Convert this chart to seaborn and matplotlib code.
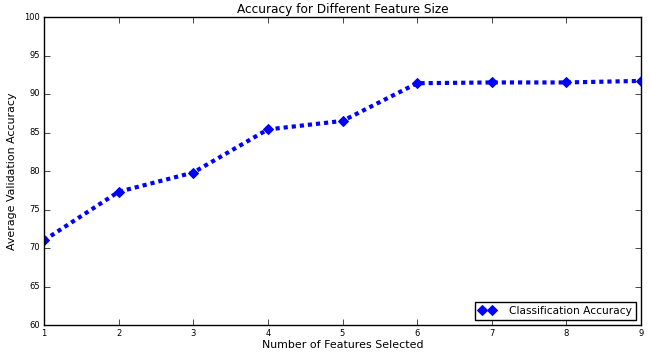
import matplotlib
matplotlib.use("Agg")
import matplotlib.pyplot as plt
import seaborn as sns
import pandas as pd

features = [1, 2, 3, 4, 5, 6, 7, 8, 9]
accuracy = [71.0, 77.3, 79.8, 85.4, 86.5, 91.4, 91.5, 91.5, 91.7]

plt.style.use("classic")
plt.rcParams["font.family"] = ["DejaVu Sans"]
plt.rcParams["lines.scale_dashes"] = True

df = pd.DataFrame({"features": features, "accuracy": accuracy})

fig = plt.figure(figsize=(6.51, 3.53), dpi=100, facecolor="white")
ax = fig.add_axes([44 / 651, 1 - 325 / 353, 597 / 651, 308 / 353])
ax.set_facecolor("white")

sns.lineplot(data=df, x="features", y="accuracy", ax=ax, color="b",
             linestyle=(0, (1, 0.95)), linewidth=3, marker="D", markersize=5,
             markeredgecolor="b", label="Classification Accuracy")

ax.set_xlim(1, 9)
ax.set_ylim(60, 100)
ax.set_xticks(features)
ax.set_yticks([60, 65, 70, 75, 80, 85, 90, 95, 100])
ax.tick_params(labelsize=6, pad=3)
ax.set_xlabel("Number of Features Selected", fontsize=7.9, labelpad=1)
ax.set_ylabel("Average Validation Accuracy", fontsize=7.9, labelpad=5)
ax.set_title("Accuracy for Different Feature Size", fontsize=8.7, pad=3)
ax.legend(loc="lower right", fontsize=7.7, numpoints=2, handlelength=1.6,
          handletextpad=1.25, borderaxespad=0.5, borderpad=0.35)

fig.savefig("out.png", dpi=100, facecolor="white")
